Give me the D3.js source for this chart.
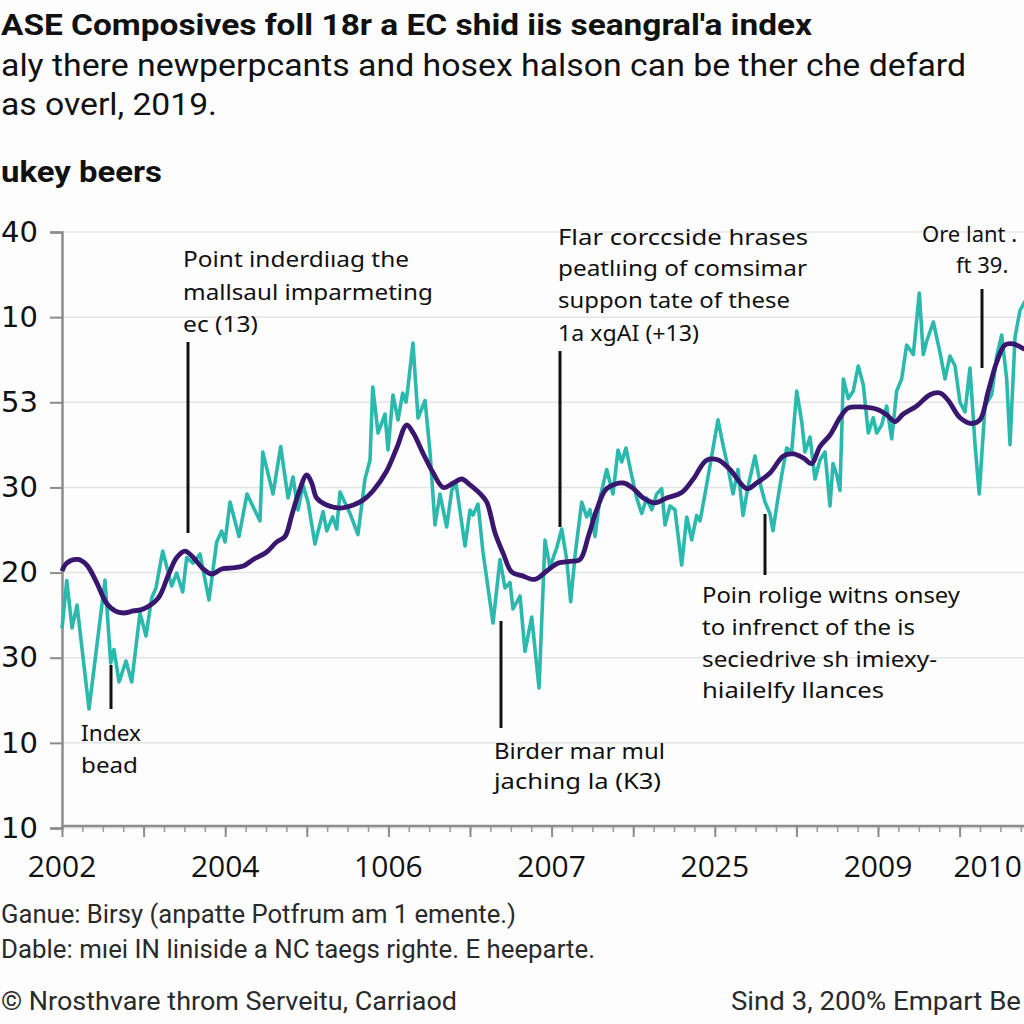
<!DOCTYPE html>
<html><head><meta charset="utf-8">
<script src="https://cdn.jsdelivr.net/npm/d3@7"></script>
<style>html,body{margin:0;padding:0;background:#fdfdfd;overflow:hidden}</style>
</head><body>
<svg id="c" width="1024" height="1024"></svg>
<script>
// ---- data ----
const yTicks = [0, 10, 20, 30, 40, 50, 60, 70];
const yLabels = ["10", "10", "30", "20", "30", "53", "10", "40"];
const xLabelTicks = [0, 2, 4, 6, 8, 10, 12];
const xLabels = ["2002", "2004", "1006", "2007", "2025", "2009", "2010"];

const indexT = [0,0.058,0.123,0.184,0.331,0.527,0.597,0.637,0.699,0.784,0.854,0.956,1.029,1.099,1.152,1.234,1.344,1.406,1.479,1.528,1.605,1.691,1.801,1.896,1.957,1.998,2.059,2.169,2.267,2.426,2.46,2.586,2.68,2.77,2.831,2.892,2.953,3.015,3.1,3.199,3.244,3.317,3.366,3.407,3.529,3.627,3.713,3.775,3.808,3.873,3.958,3.995,4.056,4.118,4.175,4.216,4.24,4.301,4.363,4.449,4.51,4.571,4.632,4.714,4.776,4.828,4.939,5,5.037,5.098,5.159,5.282,5.368,5.429,5.49,5.527,5.613,5.674,5.756,5.846,5.919,5.98,6.062,6.124,6.185,6.234,6.287,6.369,6.43,6.471,6.532,6.593,6.675,6.752,6.814,6.859,6.912,6.969,7.043,7.104,7.165,7.227,7.288,7.349,7.39,7.451,7.512,7.594,7.656,7.717,7.778,7.819,7.88,7.962,8.039,8.1,8.162,8.223,8.284,8.346,8.407,8.493,8.554,8.615,8.676,8.713,8.759,8.82,8.881,8.942,9.004,9.065,9.105,9.167,9.228,9.289,9.35,9.412,9.449,9.494,9.534,9.575,9.636,9.697,9.758,9.82,9.881,9.942,9.984,10.045,10.106,10.168,10.229,10.29,10.351,10.433,10.506,10.555,10.597,10.678,10.76,10.821,10.882,10.944,11.005,11.066,11.127,11.189,11.241,11.311,11.393,11.455,11.516,11.577,11.618,11.679,11.74,11.789,11.85];
const indexV = [23.43,29.06,23.49,26.19,13.98,29.13,19.38,20.96,17.15,19.61,17.15,25.25,22.55,27.01,28.19,32.53,28.42,29.95,27.72,31.76,31.12,32.18,26.78,33.59,34.88,33.59,38.29,34.24,39.23,36.06,44.16,39.23,44.81,38.76,41.22,37.35,40.29,38.29,33.36,37.16,34.88,36.53,35.12,39.46,36.94,34.46,40.99,43.22,51.8,46.39,48.62,44.4,50.86,47.92,51.09,50.03,51.8,56.96,48.15,50.21,44.16,35.59,39.23,35.35,39.64,40.52,33.12,37.35,36.76,38.05,32.42,24.08,31.54,28.19,28.83,25.72,27.25,20.73,24.78,16.44,33.83,30.65,32.89,35.12,31.54,26.59,31.98,38.29,36.53,37.38,34.24,38.76,42.11,39.23,44.4,42.99,44.63,41.93,38.76,36.94,38.76,37.38,39.23,39.86,35.59,37.82,37.38,30.89,36.53,33.83,36.71,36.06,39.23,43.69,47.95,45.03,42.34,39.23,42.11,36.71,40.09,43.69,40.52,38.29,36.94,34.91,37.82,41.46,44.63,44.16,51.33,47.73,44.16,45.92,40.99,43.22,44.16,37.82,42.79,41.46,39.64,52.74,50.43,51.33,54.26,52.03,46.39,48.19,46.39,47.33,49.56,45.71,51.33,52.74,56.73,55.61,62.84,55.61,57.2,59.43,55.84,52.74,55.44,54.26,49.99,48.86,54.03,45.03,39.23,49.56,50.89,55.44,57.9,52.74,45.03,57.67,60.78,61.66,62.5];

const smoothT = [0,0.058,0.196,0.303,0.425,0.548,0.65,0.751,0.874,0.996,1.18,1.303,1.406,1.507,1.609,1.732,1.835,1.957,2.08,2.222,2.344,2.509,2.631,2.733,2.815,2.896,2.999,3.06,3.121,3.244,3.407,3.57,3.692,3.815,3.979,4.102,4.224,4.305,4.428,4.55,4.673,4.795,4.898,5,5.123,5.205,5.306,5.408,5.511,5.634,5.797,5.94,6.082,6.225,6.348,6.45,6.553,6.675,6.879,7.001,7.124,7.267,7.41,7.594,7.736,7.901,8.043,8.186,8.391,8.513,8.676,8.84,8.962,9.085,9.187,9.289,9.412,9.534,9.636,9.779,9.984,10.106,10.208,10.31,10.474,10.637,10.76,10.861,11.005,11.148,11.25,11.352,11.455,11.556,11.658,11.789,11.85];
const smoothV = [30.18,31.12,31.54,30.89,28.83,26.36,25.49,25.25,25.49,25.72,27.01,29.71,31.76,32.53,31.76,30.42,29.83,30.42,30.54,30.77,31.54,32.42,33.59,34.24,36.71,39.23,41.46,40.52,38.76,37.94,37.58,37.94,38.52,39.64,41.93,44.63,47.33,46.39,43.93,41.69,39.99,40.52,40.99,40.29,39.27,38.29,34.68,32.22,30.07,29.64,29.2,30.18,31.12,31.31,31.54,34.24,37.38,39.86,40.52,39.86,38.76,38.19,38.76,39.4,40.99,43.22,43.22,42.11,39.86,40.52,41.69,43.69,43.93,43.46,42.79,44.81,46.16,48.19,49.33,49.45,49.18,48.54,47.73,48.62,49.56,50.89,51.09,50.21,48.19,47.51,47.95,51.33,54.73,56.73,56.85,56.28,56.0];

const titleText = "ASE Composives foll 18r a EC shid iis seangral'a index";
const subtitleLines = ["aly there newperpcants and hosex halson can be ther che defard", "as overl, 2019."];
const sectionText = "ukey beers";
const footerLines = ["Ganue: Birsy (anpatte Potfrum am 1 emente.)", "Dable: mıei IN liniside a NC taegs righte. E heeparte."];
const creditLeft = "© Nrosthvare throm Serveitu, Carriaod";
const creditRight = "Sind 3, 200% Empart Be";

const noteTexts = [
  ["Point inderdiıag the", "mallsaul imparmeting", "ec (13)"],
  ["Index", "bead"],
  ["Birder mar mul", "jaching la (K3)"],
  ["Flar corccside hrases", "peatlıing of comsimar", "suppon tate of these", "1a xgAI (+13)"],
  ["Poin rolige witns onsey", "to infrenct of the is", "seciedrive sh imiexy-", "hiailelfy llances"],
  ["Ore lant .", "ft 39."]
];

// ---- layout ----
const svg = d3.select("#c");
const W = 1024;
const pLeft = 62, pTop = 232, pBottom = 828;
const x = d3.scaleLinear().domain([0, 12]).range([pLeft, pLeft + 12 * 81.6]);
const y = d3.scaleLinear().domain([0, 70]).range([pBottom, pTop]);

svg.append("rect").attr("width", W).attr("height", 1024).attr("fill", "#fdfdfd");

// gridlines
svg.append("g").selectAll("line").data(yTicks).join("line")
  .attr("x1", pLeft).attr("x2", W).attr("y1", d => y(d)).attr("y2", d => y(d))
  .attr("stroke", "#e4e4e6").attr("stroke-width", 1.5);

// y axis
const yAxis = svg.append("g").attr("transform", `translate(${pLeft},0)`)
  .call(d3.axisLeft(y).tickValues(yTicks).tickFormat((d, i) => yLabels[i]).tickSize(12).tickPadding(12));
yAxis.select(".domain").attr("stroke", "#8c8c8c").attr("stroke-width", 2.5);
yAxis.selectAll(".tick line").attr("stroke", "#8c8c8c").attr("stroke-width", 2);
yAxis.selectAll(".tick text").attr("font-family", "DejaVu Sans").attr("font-size", 29).attr("fill", "#111");

// x axis minor ticks
const minor = d3.range(0, 12.01, 0.25);
const xMinor = svg.append("g").attr("transform", `translate(0,${pBottom - 2})`)
  .call(d3.axisBottom(x).tickValues(minor).tickFormat("").tickSize(6));
xMinor.select(".domain").remove();
xMinor.selectAll(".tick line").attr("stroke", "#9a9a9a").attr("stroke-width", 1.5);

// x axis major
const xAxis = svg.append("g").attr("transform", `translate(0,${pBottom - 2})`)
  .call(d3.axisBottom(x).tickValues(d3.range(0, 13, 1)).tickFormat("").tickSize(11));
xAxis.select(".domain").attr("d", `M${pLeft},0H${W}`).attr("stroke", "#8c8c8c").attr("stroke-width", 2.5);
xAxis.selectAll(".tick line").attr("stroke", "#8c8c8c").attr("stroke-width", 2);

// x labels (last one kept inside the frame)
svg.append("g").selectAll("text").data(xLabelTicks).join("text")
  .attr("x", d => Math.min(x(d), W - 2)).attr("y", 877)
  .attr("text-anchor", d => x(d) > W - 40 ? "end" : "middle")
  .attr("font-family", "Open Sans").attr("font-size", 30).attr("fill", "#111")
  .text((d, i) => xLabels[i]);

// series
const pts = (T, V) => T.map((t, i) => [t, V[i]]);
svg.append("path").datum(pts(indexT, indexV))
  .attr("d", d3.line().x(d => x(d[0])).y(d => y(d[1])).curve(d3.curveLinear))
  .attr("fill", "none").attr("stroke", "#2cb9ad").attr("stroke-width", 3.6).attr("stroke-linejoin", "round");
svg.append("path").datum(pts(smoothT, smoothV))
  .attr("d", d3.line().x(d => x(d[0])).y(d => y(d[1])).curve(d3.curveCatmullRom))
  .attr("fill", "none").attr("stroke", "#3a176e").attr("stroke-width", 4.8).attr("stroke-linejoin", "round");

// annotations
const leaders = [[188, 342, 533], [111, 665, 709], [501, 621, 728], [560, 351, 527], [765, 514, 575], [982, 289, 368]];
svg.append("g").selectAll("line").data(leaders).join("line")
  .attr("x1", d => d[0]).attr("x2", d => d[0]).attr("y1", d => d[1]).attr("y2", d => d[2])
  .attr("stroke", "#111").attr("stroke-width", 3);

const notePos = [
  {x: 183, y: [267, 300, 332], w: [226, 250, 75]},
  {x: 81, y: [741, 773], w: [60, 57]},
  {x: 494, y: [759, 789], w: [171, 167]},
  {x: 558, y: [245, 276, 308, 341], w: [250, 249, 232, 141]},
  {x: 702, y: [603, 635, 667, 698], w: [258, 213, 235, 182]},
  {x: 922, y: [242, 273], w: [null, null], xs: [922, 956]}
];
noteTexts.forEach((lines, k) => {
  const p = notePos[k];
  lines.forEach((s, j) => {
    const t = svg.append("text").attr("x", p.xs ? p.xs[j] : p.x).attr("y", p.y[j])
      .attr("font-family", "Noto Sans").attr("font-size", 22).attr("fill", "#111").text(s);
    if (p.w[j]) t.attr("textLength", p.w[j]).attr("lengthAdjust", "spacingAndGlyphs");
  });
});

// titles
const tx = (s, x0, y0, size, weight, len, color, fam) => {
  const t = svg.append("text").attr("x", x0).attr("y", y0).attr("font-family", fam || "Roboto")
    .attr("font-size", size).attr("font-weight", weight).attr("fill", color || "#111").text(s);
  if (len) t.attr("textLength", len).attr("lengthAdjust", "spacingAndGlyphs");
  return t;
};
tx(titleText, 1, 35, 29, 700, 811);
tx(subtitleLines[0], 1, 76, 31, 400, 965);
tx(subtitleLines[1], 1, 115, 31, 400, 216);
tx(sectionText, 1, 182, 30, 700, 161);
tx(footerLines[0], 1, 923, 26, 400, 515, "#2a2a2a");
tx(footerLines[1], 1, 958, 26, 400, 594, "#2a2a2a");
tx(creditLeft, 1, 1010, 26, 400, 456, "#2a2a2a");
tx(creditRight, 731, 1010, 26, 400, 290, "#2a2a2a");
</script>
</body></html>
